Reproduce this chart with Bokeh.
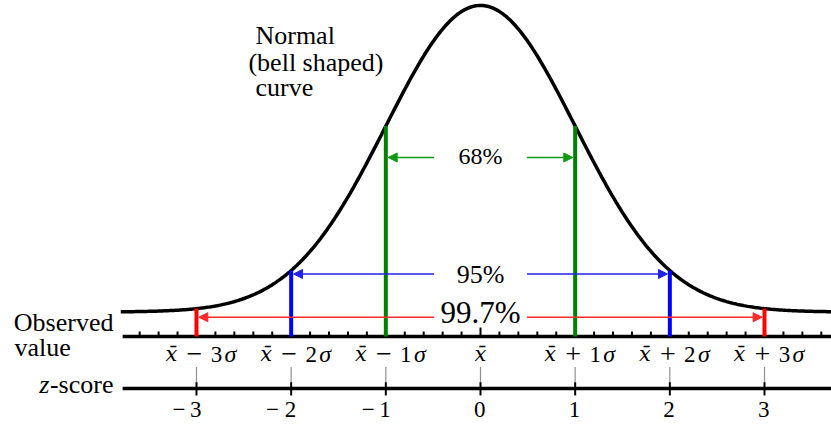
import numpy as np
from bokeh.plotting import figure
from bokeh.models import Range1d, Arrow, NormalHead, ColumnDataSource, Label
from bokeh.core.properties import value
from bokeh.embed import file_html
from bokeh.resources import INLINE

# ---- data ----
z_ticks = [-3, -2, -1, 0, 1, 2, 3]
z_tick_labels = ["\u2212\u20093", "\u2212 2", "\u2212\u20091", "0", "1", "2", "3"]
obs_signs = ["\u2212", "\u2212", "\u2212", "+", "+", "+"]
obs_nums = ["3", "2", "1", "1", "2", "3"]
obs_pos = [-3, -2, -1, 1, 2, 3]
intervals = [1, 2, 3]
coverage = ["68%", "95%", "99.7%"]
coverage_font = [24, 26, 31]
band_colors = ["#008000", "#0000ff", "#ff0000"]
arrow_colors = ["#119911", "#2222ee", "#ff2a2a"]
curve_z = np.linspace(-3.80, 3.75, 500)
minor_z = np.round(np.arange(-3.6, 3.61, 0.2), 2)
minor_z = [m for m in minor_z if abs(m) > 1e-9]

FONT = value("Liberation Serif")
XBAR_FONT = value("DejaVu Serif")
PX_PER_UNIT = 768.3  # vertical screen pixels per density unit


def pdf(z):
    z = np.asarray(z, dtype=float)
    return np.exp(-z ** 2 / 2) / np.sqrt(2 * np.pi)


def ty(y, fs):
    """baseline position corrected for how the renderer places alphabetic baselines"""
    return y + 0.38 * fs / PX_PER_UNIT


# layout levels (in density units)
Y_OBS = -0.0319
Y_ZLINE = -0.0996
X_LEFT = -3.78

p = figure(width=831, height=425, output_backend="svg", toolbar_location=None,
           x_range=Range1d(-5.0702, 3.7077), y_range=Range1d(-0.1477, 0.4054),
           x_axis_type=None, y_axis_type=None, min_border=0)
p.grid.visible = False
p.outline_line_color = None
p.background_fill_color = "white"
p.border_fill_color = "white"
p.styles = {"position": "absolute", "left": "0px", "top": "0px"}

# bell curve
p.line(curve_z, pdf(curve_z), line_color="black", line_width=3.5)

# observed-value axis
p.segment(x0=[X_LEFT], y0=[Y_OBS], x1=[3.75], y1=[Y_OBS], line_color="black", line_width=3.5)
p.segment(x0=minor_z, y0=[Y_OBS] * len(minor_z), x1=minor_z, y1=[Y_OBS + 0.0065] * len(minor_z),
          line_color="black", line_width=2)
p.segment(x0=[0], y0=[Y_OBS], x1=[0], y1=[Y_OBS + 0.0117], line_color="black", line_width=2)

# z-score axis
p.segment(x0=[X_LEFT], y0=[Y_ZLINE], x1=[3.75], y1=[Y_ZLINE], line_color="black", line_width=3.5)
p.segment(x0=z_ticks, y0=[Y_ZLINE - 0.0090] * 7, x1=z_ticks, y1=[Y_ZLINE + 0.0082] * 7,
          line_color="black", line_width=2)
p.segment(x0=z_ticks, y0=[-0.0722] * 7, x1=z_ticks, y1=[-0.0918] * 7,
          line_color="#222222", line_width=1.2, line_dash="1 1")

# vertical sigma lines and arrows
arrow_y = [0.2011, 0.0495, -0.0068]
gap = 0.49
for k, col, acol, ay in zip(intervals, band_colors, arrow_colors, arrow_y):
    top = float(pdf(k))
    p.segment(x0=[-k, k], y0=[Y_OBS, Y_OBS], x1=[-k, k], y1=[top, top], line_color=col, line_width=4)
    src = ColumnDataSource(dict(xs=[-gap, gap], xe=[-k + 0.025, k - 0.025], y=[ay, ay]))
    p.add_layout(Arrow(source=src, x_start="xs", y_start="y", x_end="xe", y_end="y",
                       line_color=acol, line_width=1.5,
                       end=NormalHead(size=9, fill_color=acol, line_color=acol, line_width=1)))

# coverage labels
cov_y = [0.1907, 0.0358, -0.0163]
for txt, fs, cy in zip(coverage, coverage_font, cov_y):
    p.text(x=[0], y=[ty(cy, fs)], text=[txt], text_font=FONT, text_font_size=f"{fs}px",
           text_align="center", text_baseline="alphabetic", text_color="black")

# observed value labels (x̄ ± kσ)
Y_LAB = ty(-0.0657, 22)
xbar = "x\u0304"
p.text(x=obs_pos, y=[Y_LAB] * 6, text=[xbar] * 6, text_font=XBAR_FONT, text_font_size="21px",
       text_font_style="italic", text_align="center", text_baseline="alphabetic", x_offset=-25)
p.text(x=obs_pos, y=[Y_LAB] * 6, text=obs_signs, text_font=FONT, text_font_size="28px",
       text_align="center", text_baseline="alphabetic", x_offset=-2)
p.text(x=obs_pos, y=[Y_LAB] * 6, text=obs_nums, text_font=FONT, text_font_size="23px",
       text_align="center", text_baseline="alphabetic", x_offset=20)
p.text(x=obs_pos, y=[Y_LAB] * 6, text=["\u03c3"] * 6, text_font=FONT, text_font_size="24px",
       text_font_style="italic", text_align="center", text_baseline="alphabetic", x_offset=34)
p.text(x=[0], y=[Y_LAB], text=[xbar], text_font=XBAR_FONT, text_font_size="21px",
       text_font_style="italic", text_align="center", text_baseline="alphabetic")

# z-score numbers
p.text(x=z_ticks, y=[ty(-0.1386, 23)] * 7, text=z_tick_labels, text_font=FONT, text_font_size="23px",
       text_align="right", text_baseline="alphabetic", x_offset=5)


# left side labels
def lab(x, y, t, align="left", style="normal", xo=0, size=26):
    p.add_layout(Label(x=x, y=ty(y, size), text=t, text_font="Liberation Serif",
                       text_font_size=f"{size}px", text_align=align, text_baseline="alphabetic",
                       text_font_style=style, x_offset=xo, text_color="black"))


lab(-3.877, -0.0271, "Observed", align="right")
lab(-4.922, -0.0596, "value")
lab(-3.877, -0.1078, "-score", align="right")
lab(-3.877, -0.1078, "z", align="right", style="italic", xo=-64)

# curve title
lab(-2.377, 0.3469, "Normal")
lab(-2.451, 0.3125, "(bell shaped)")
lab(-2.377, 0.2792, "curve")

open("out.html", "w").write(file_html(p, INLINE))
